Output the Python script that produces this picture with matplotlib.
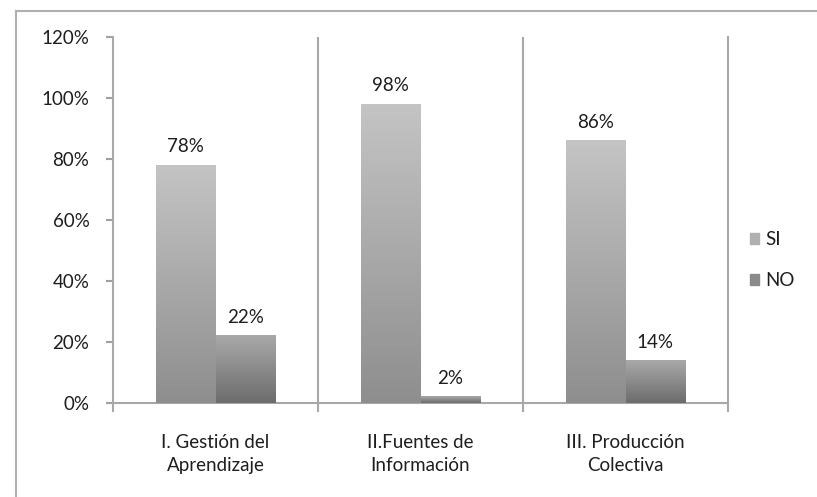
import matplotlib
matplotlib.use("Agg")
import matplotlib.pyplot as plt
import numpy as np
from matplotlib.colors import LinearSegmentedColormap
from matplotlib.lines import Line2D

plt.rcParams['font.family'] = ['Lato', 'DejaVu Sans']

categories = ["I. Gestión del\nAprendizaje", "II.Fuentes de\nInformación", "III. Producción\nColectiva"]
si_values = [78, 98, 86]
no_values = [22, 2, 14]
series_names = ["SI", "NO"]
yticks = [0, 20, 40, 60, 80, 100, 120]

FS = 13.5
TXT = '#1e1e1e'

fig = plt.figure(figsize=(8.17, 4.97), dpi=100)
ax = fig.add_axes([113/817, 1-403/497, (728-113)/817, (403-37)/497])

x = np.arange(len(categories))
w = 0.29
bars_si = ax.bar(x - w/2, si_values, w, color='#a8a8a8', label=series_names[0], zorder=2)
bars_no = ax.bar(x + w/2, no_values, w, color='#8a8a8a', label=series_names[1], zorder=2)

cmap_si = LinearSegmentedColormap.from_list('si', ['#8e8e8e', '#c4c4c4'])
cmap_no = LinearSegmentedColormap.from_list('no', ['#6c6c6c', '#a9a9a9'])
grad = np.linspace(0, 1, 256).reshape(-1, 1)
for bars, cm in ((bars_si, cmap_si), (bars_no, cmap_no)):
    for b in bars:
        x0, y0 = b.get_x(), b.get_y()
        bw, bh = b.get_width(), b.get_height()
        ax.imshow(grad, cmap=cm, origin='lower', aspect='auto',
                  extent=[x0, x0 + bw, y0, y0 + bh], zorder=3)
        b.set_facecolor('none')

for bars, vals in ((bars_si, si_values), (bars_no, no_values)):
    for b, v in zip(bars, vals):
        ax.text(b.get_x() + b.get_width()/2, v + 3.2, f"{v}%", ha='center',
                va='bottom', fontsize=FS, color=TXT, zorder=4)

ax.set_xlim(-0.5, len(categories) - 0.5)
ax.set_ylim(0, 120)
ax.set_yticks(yticks)
ax.set_yticklabels([f"{t}%" for t in yticks], fontsize=FS, color=TXT)
ax.set_xticks(x)
ax.set_xticklabels(categories, fontsize=FS, color=TXT, linespacing=1.45)
ax.tick_params(axis='x', length=0, pad=22)
ax.tick_params(axis='y', length=5, color='#a0a0a0', width=1.5, pad=12)

ax.spines['top'].set_visible(False)
for s in ['left', 'bottom', 'right']:
    ax.spines[s].set_color('#a8a8a8')
    ax.spines[s].set_linewidth(1.5)
for xs in [0.5, 1.5]:
    ax.axvline(xs, color='#a8a8a8', lw=1.5, zorder=1)
for xs in [-0.5, 0.5, 1.5, 2.5]:
    ax.plot([xs, xs], [0, -2.5], color='#a8a8a8', lw=1.5, clip_on=False)

handles = [plt.Rectangle((0, 0), 1, 1, color='#b0b0b0'),
           plt.Rectangle((0, 0), 1, 1, color='#8a8a8a')]
leg = fig.legend(handles, series_names, loc='center left', bbox_to_anchor=(733/817, 1-260/497),
                 frameon=False, fontsize=FS, handlelength=0.5, handleheight=0.5,
                 handletextpad=0.3, labelspacing=1.3)
for t in leg.get_texts():
    t.set_color(TXT)

fig.add_artist(Line2D([16/817, 1], [1-11/497, 1-11/497], color='#b0b0b0', lw=1.5))
fig.add_artist(Line2D([16/817, 16/817], [0, 1-11/497], color='#b0b0b0', lw=1.5))

fig.savefig("out.png", dpi=100)
